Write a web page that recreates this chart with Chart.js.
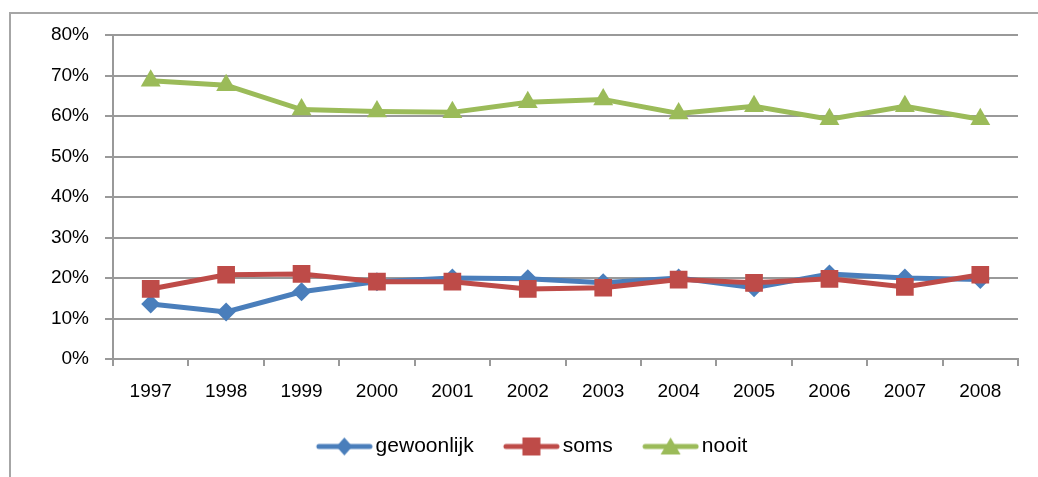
<!DOCTYPE html>
<html>
<head>
<meta charset="utf-8">
<script src="https://cdn.jsdelivr.net/npm/chart.js@4/dist/chart.umd.min.js"></script>
<style>
  html, body { margin: 0; padding: 0; background: #fff; overflow: hidden; }
  #frame { position: absolute; left: 9px; top: 12px; width: 1100px; height: 500px;
           border-left: 2px solid #a6a6a6; border-top: 2px solid #a6a6a6; }
  #wrap { position: absolute; left: 0; top: 0; width: 1038px; height: 477px; }
</style>
</head>
<body>
<div id="frame"></div>
<div id="wrap"><canvas id="myChart"></canvas></div>
<script>
  // jaren en percentages
  const years = ['1997', '1998', '1999', '2000', '2001', '2002', '2003', '2004', '2005', '2006', '2007', '2008'];
  const gewoonlijk = [13.6, 11.6, 16.6, 19.1, 20.0, 19.8, 18.8, 20.0, 17.6, 21.0, 20.0, 19.6];
  const soms = [17.3, 20.8, 21.0, 19.1, 19.1, 17.3, 17.6, 19.6, 18.8, 19.8, 17.8, 20.8];
  const nooit = [68.7, 67.6, 61.6, 61.1, 60.9, 63.4, 64.1, 60.6, 62.4, 59.2, 62.4, 59.2];
  const yTicks = [0, 10, 20, 30, 40, 50, 60, 70, 80];

  const blauw = '#4a7ebb';
  const rood = '#be4b48';
  const groen = '#9bbb59';
  const grijs = '#999999';

  const padLeft = 26;

  // plaatje voor de legenda: lege ruimte links, dan lijn met marker
  const legendImg = (color, shape) => {
    const c = document.createElement('canvas');
    const s = 27;
    c.width = 84; c.height = 22;
    const ctx = c.getContext('2d');
    ctx.strokeStyle = color; ctx.fillStyle = color;
    ctx.lineWidth = 5; ctx.lineCap = 'round';
    ctx.beginPath(); ctx.moveTo(s + 3, 11); ctx.lineTo(s + 54, 11); ctx.stroke();
    ctx.beginPath();
    const cx = s + 28.5;
    if (shape === 'diamond') {
      ctx.moveTo(cx, 2); ctx.lineTo(cx + 8, 11); ctx.lineTo(cx, 20); ctx.lineTo(cx - 8, 11);
    } else if (shape === 'square') {
      ctx.rect(cx - 9, 2, 18, 18);
    } else {
      ctx.moveTo(cx, 2); ctx.lineTo(cx + 10, 19); ctx.lineTo(cx - 10, 19);
    }
    ctx.closePath(); ctx.fill();
    return c;
  };
  const legendImgs = [legendImg(blauw, 'diamond'), legendImg(rood, 'square'), legendImg(groen, 'triangle')];

  const data = {
    labels: years,
    datasets: [{
      label: 'gewoonlijk',
      data: gewoonlijk,
      borderColor: blauw,
      backgroundColor: blauw,
      pointStyle: 'rectRot',
      pointRadius: 9.5,
      order: 3
    }, {
      label: 'soms',
      data: soms,
      borderColor: rood,
      backgroundColor: rood,
      pointStyle: 'rect',
      pointRadius: 12.5,
      order: 2
    }, {
      label: 'nooit',
      data: nooit,
      borderColor: groen,
      backgroundColor: groen,
      pointStyle: 'triangle',
      pointRadius: 11.5,
      order: 1
    }]
  };

  const config = {
    type: 'line',
    data: data,
    options: {
      responsive: true,
      maintainAspectRatio: false,
      animation: false,
      layout: { padding: { left: padLeft, top: 35, right: 20, bottom: 10 } },
      elements: {
        line: { borderWidth: 5, tension: 0 },
        point: { borderWidth: 0 }
      },
      scales: {
        x: {
          offset: true,
          grid: { offset: true, drawOnChartArea: false, drawTicks: true, tickLength: 7, color: grijs, lineWidth: 2 },
          border: { color: grijs, width: 2 },
          ticks: { color: '#000', font: { family: 'Liberation Sans', size: 19 }, padding: 14, maxRotation: 0 },
          afterFit: (scale) => { scale.height = 67; }
        },
        y: {
          min: 0,
          max: 80,
          afterBuildTicks: (scale) => { scale.ticks = yTicks.map(v => ({ value: v })); },
          grid: { color: grijs, lineWidth: 2, tickLength: 8 },
          border: { color: grijs, width: 2 },
          ticks: {
            color: '#000',
            font: { family: 'Liberation Sans', size: 19 },
            padding: 16,
            callback: (v) => v + '%'
          },
          afterFit: (scale) => { scale.width = 113 - padLeft; }
        }
      },
      plugins: {
        tooltip: { enabled: false },
        legend: {
          position: 'bottom',
          labels: {
            usePointStyle: true,
            pointStyleWidth: 68.5,
            padding: 10,
            color: '#000',
            font: { family: 'Liberation Sans', size: 21 },
            generateLabels: (chart) => chart.data.datasets.map((ds, i) => ({
              text: ds.label,
              fillStyle: ds.borderColor,
              strokeStyle: ds.borderColor,
              lineWidth: 0,
              pointStyle: legendImgs[i],
              hidden: false,
              datasetIndex: i,
              fontColor: '#000'
            }))
          }
        }
      }
    }
  };

  const myChart = new Chart(document.getElementById('myChart'), config);
</script>
</body>
</html>
